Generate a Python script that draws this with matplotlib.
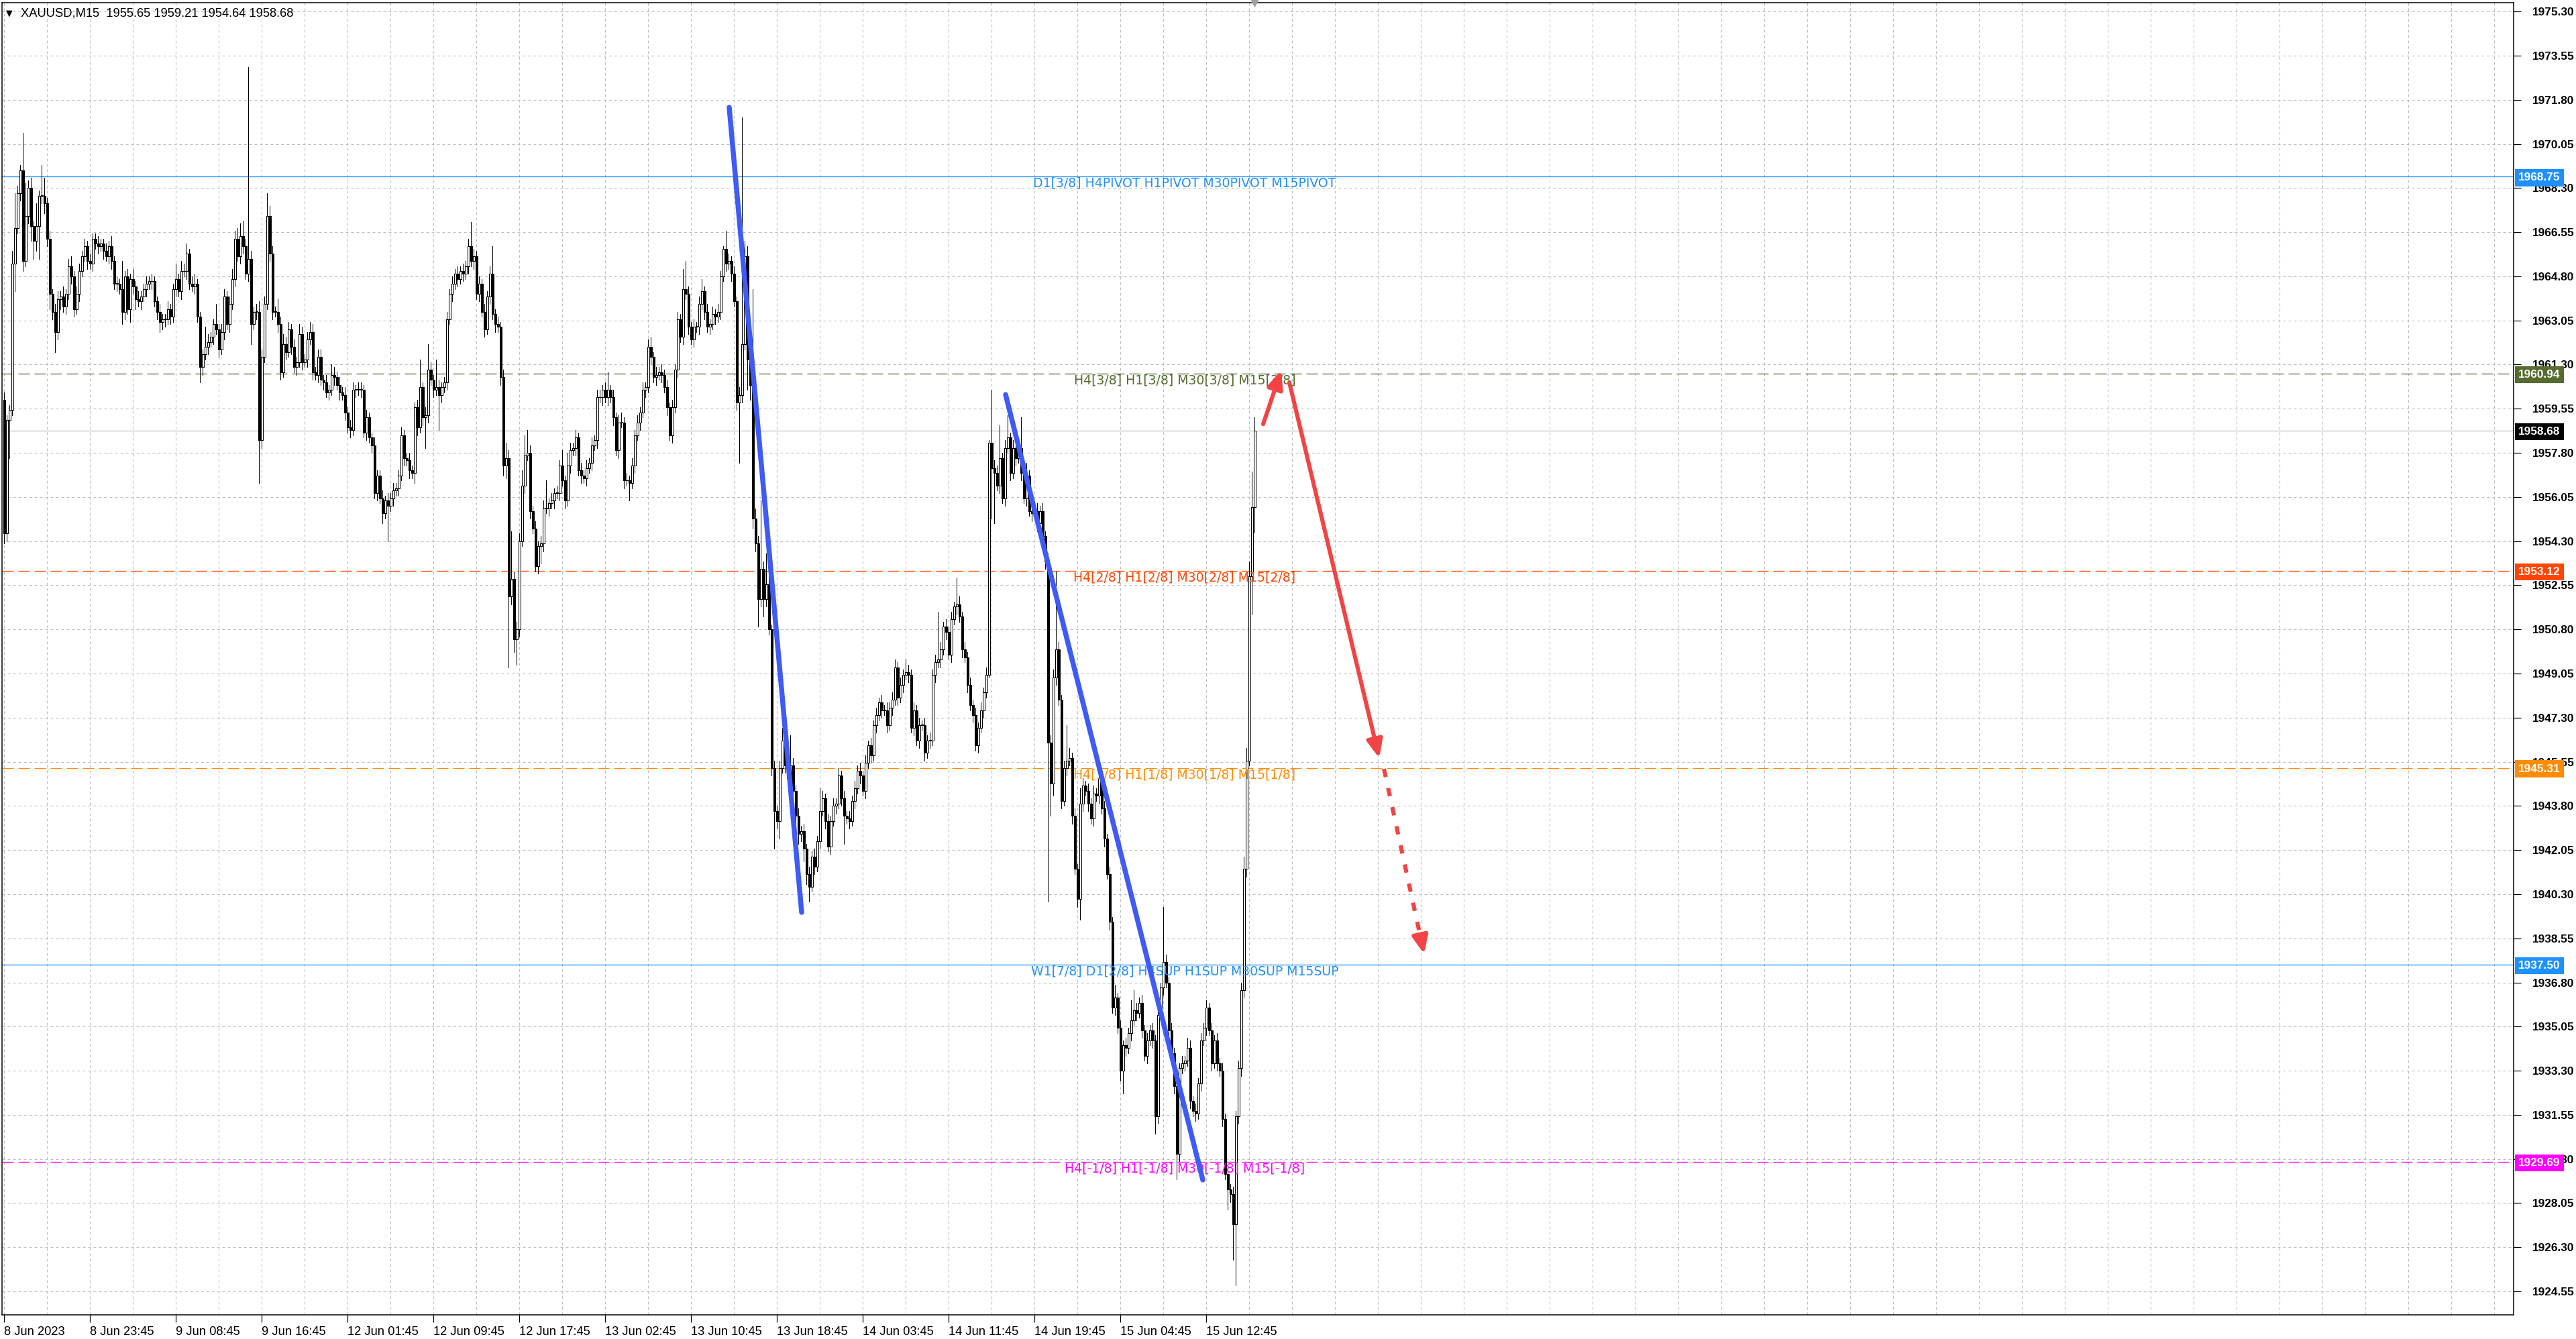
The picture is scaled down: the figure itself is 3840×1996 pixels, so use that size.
import numpy as np
import matplotlib
matplotlib.use("Agg")
from matplotlib import pyplot as plt
from matplotlib.transforms import blended_transform_factory, offset_copy

# M15 candles (open of bar i = close of bar i-1)
first_open = 1959.9
closes = [
    1954.6, 1959.1, 1959.5, 1965.3, 1966.7, 1968.1, 1969.0, 1965.4, 1967.2, 1968.3,
    1966.8, 1966.2, 1966.8, 1968.0, 1968.0, 1967.7, 1966.3, 1964.1, 1963.4, 1962.6,
    1963.9, 1964.0, 1963.6, 1964.1, 1965.2, 1964.8, 1963.5, 1964.1, 1965.0, 1965.6,
    1966.0, 1965.4, 1965.3, 1966.3, 1966.1, 1966.0, 1966.1, 1965.8, 1965.6, 1966.0,
    1965.4, 1964.5, 1964.5, 1964.3, 1963.4, 1964.8, 1963.5, 1964.7, 1964.4, 1963.9,
    1963.8, 1964.0, 1964.3, 1964.5, 1964.6, 1964.6, 1963.8, 1963.4, 1963.0, 1963.1,
    1963.1, 1963.5, 1963.2, 1964.3, 1964.7, 1964.2, 1965.0, 1965.0, 1965.7, 1964.5,
    1964.4, 1964.5, 1963.2, 1961.2, 1961.7, 1962.0, 1962.2, 1962.4, 1962.9, 1962.7,
    1961.9, 1962.6, 1964.0, 1962.9, 1963.7, 1964.7, 1966.3, 1965.6, 1966.4, 1966.0,
    1964.9, 1965.5, 1962.9, 1963.4, 1963.4, 1958.3, 1961.6, 1963.7, 1967.2, 1965.7,
    1963.4, 1963.4, 1962.9, 1961.0, 1962.1, 1961.8, 1962.7, 1962.0, 1961.2, 1961.4,
    1962.5, 1961.4, 1961.5, 1962.3, 1962.6, 1961.0, 1960.9, 1961.6, 1960.7, 1960.6,
    1960.2, 1960.3, 1960.9, 1960.8, 1960.5, 1960.2, 1960.1, 1959.4, 1958.8, 1958.7,
    1960.3, 1960.3, 1960.3, 1960.3, 1958.6, 1959.2, 1958.4, 1958.1, 1956.2, 1956.9,
    1956.0, 1955.4, 1955.9, 1955.7, 1956.0, 1956.3, 1956.4, 1956.9, 1958.5, 1957.6,
    1957.5, 1957.1, 1957.0, 1959.6, 1958.8, 1960.4, 1959.2, 1959.3, 1961.1, 1960.7,
    1960.3, 1960.4, 1960.1, 1960.4, 1960.6, 1963.1, 1964.1, 1964.5, 1964.9, 1964.7,
    1965.0, 1964.9, 1965.2, 1966.0, 1965.4, 1965.6, 1964.1, 1964.5, 1963.4, 1962.7,
    1964.0, 1964.9, 1963.3, 1962.9, 1962.8, 1960.8, 1957.3, 1957.6, 1952.1, 1952.8,
    1950.4, 1950.8, 1954.3, 1956.5, 1957.7, 1957.8, 1955.5, 1954.8, 1953.3, 1954.1,
    1954.2, 1955.6, 1955.6, 1955.8, 1955.9, 1956.2, 1956.2, 1957.3, 1956.7, 1955.9,
    1957.3, 1957.9, 1958.0, 1958.4, 1957.1, 1956.9, 1956.8, 1957.2, 1957.4, 1958.1,
    1958.3, 1960.0, 1960.0, 1960.3, 1960.0, 1960.3, 1960.0, 1959.2, 1957.9, 1959.0,
    1959.0, 1956.7, 1956.7, 1956.6, 1957.3, 1958.5, 1959.0, 1959.4, 1960.3, 1960.4,
    1962.0, 1961.6, 1960.8, 1960.9, 1961.0, 1960.9, 1960.4, 1959.6, 1958.5, 1959.6,
    1961.1, 1963.1, 1962.4, 1964.3, 1964.1, 1962.8, 1962.3, 1962.8, 1962.8, 1963.7,
    1964.2, 1963.4, 1962.8, 1962.9, 1963.3, 1963.2, 1963.4, 1964.8, 1965.9, 1965.3,
    1965.4, 1964.9, 1963.8, 1959.8, 1960.1, 1962.1, 1965.6, 1961.5, 1960.5, 1955.2,
    1954.2, 1952.0, 1953.2, 1952.0, 1952.6, 1950.8, 1945.3, 1943.6, 1943.2, 1945.3,
    1946.4, 1945.4, 1944.9, 1945.4, 1944.4, 1943.4, 1942.7, 1942.8, 1942.1, 1941.1,
    1940.6, 1941.8, 1941.4, 1942.4, 1943.6, 1944.1, 1943.2, 1942.2, 1943.2, 1943.8,
    1943.9, 1945.0, 1944.1, 1943.4, 1943.3, 1943.2, 1944.0, 1944.5, 1945.2, 1945.0,
    1944.4, 1945.5, 1946.2, 1945.8, 1947.0, 1947.4, 1947.9, 1947.6, 1947.6, 1947.0,
    1947.7, 1948.0, 1949.3, 1948.1, 1948.6, 1949.0, 1949.1, 1949.0, 1946.9, 1947.6,
    1946.4, 1947.0, 1947.0, 1945.9, 1946.4, 1946.4, 1949.0, 1949.5, 1949.6, 1950.0,
    1950.9, 1950.7, 1949.8, 1951.2, 1951.7, 1951.8, 1951.3, 1950.0, 1949.7, 1948.6,
    1947.8, 1947.4, 1946.2, 1946.9, 1947.6, 1948.3, 1949.0, 1958.2, 1957.2, 1957.0,
    1956.5, 1957.6, 1956.0, 1958.0, 1958.4, 1957.0, 1958.0, 1957.6, 1958.0, 1957.0,
    1956.0, 1956.9, 1955.5, 1955.4, 1955.5, 1955.0, 1955.5, 1954.5, 1953.5, 1946.3,
    1944.7, 1948.9, 1950.0, 1948.0, 1944.0, 1945.3, 1945.6, 1945.7, 1943.4, 1941.3,
    1940.1, 1943.9, 1944.6, 1944.4, 1943.9, 1943.3, 1944.3, 1944.2, 1944.9, 1943.7,
    1942.5, 1941.1, 1939.2, 1935.8, 1936.2, 1935.0, 1933.3, 1934.3, 1934.2, 1934.8,
    1935.3, 1935.7, 1935.6, 1936.0, 1934.9, 1933.9, 1934.5, 1934.9, 1934.5, 1931.5,
    1935.5, 1936.6, 1937.6, 1936.8, 1934.9, 1934.0, 1932.7, 1930.0, 1933.4, 1933.6,
    1933.7, 1934.2, 1932.1, 1931.7, 1931.6, 1932.8, 1934.5, 1935.0, 1935.8, 1934.9,
    1933.6, 1934.5, 1933.6, 1933.3, 1931.4, 1929.2, 1928.6, 1928.4, 1927.2, 1931.5,
    1933.4, 1936.5, 1941.3, 1945.6, 1952.9, 1955.65, 1958.68,
]
up_wick = [
    0.3, 0.2, 0.2, 0.5, 1.4, 0.3, 0.2, 1.5, 1.3, 0.3,
    0.4, 0.2, 0.9, 0.2, 1.2, 0.7, 0.2, 0.3, 0.2, 0.3,
    0.3, 0.2, 0.4, 0.2, 0.3, 0.4, 0.2, 0.3, 0.3, 0.2,
    0.3, 0.2, 0.3, 0.2, 0.2, 0.3, 0.2, 0.2, 0.3, 0.2,
    0.4, 0.2, 0.3, 0.2, 1.1, 0.2, 0.3, 0.2, 0.4, 0.2,
    0.3, 0.2, 0.2, 0.3, 0.2, 0.3, 0.2, 0.2, 0.3, 0.2,
    0.2, 0.3, 0.2, 0.2, 0.6, 0.2, 0.4, 0.3, 0.4, 0.2,
    0.3, 0.4, 0.2, 0.2, 0.2, 0.8, 0.3, 0.2, 0.2, 0.8,
    0.2, 0.3, 0.3, 0.2, 0.3, 0.4, 0.3, 0.4, 0.5, 0.6,
    0.3, 7.6, 0.3, 0.2, 0.3, 0.4, 0.3, 0.3, 0.9, 0.4,
    0.3, 0.2, 0.5, 0.3, 0.4, 0.3, 0.3, 0.2, 0.3, 0.2,
    0.4, 0.3, 0.2, 0.3, 0.4, 0.3, 0.2, 0.3, 0.3, 0.2,
    0.3, 0.2, 0.4, 0.3, 0.2, 0.3, 0.2, 0.3, 0.2, 0.3,
    0.3, 0.2, 0.3, 0.3, 0.2, 0.3, 0.2, 0.2, 0.3, 0.2,
    0.2, 0.3, 0.2, 0.3, 0.2, 0.3, 0.2, 0.2, 0.3, 0.2,
    0.2, 0.3, 0.2, 0.2, 0.3, 1.1, 0.2, 0.3, 1.0, 0.3,
    0.2, 1.1, 0.3, 0.2, 0.2, 0.3, 0.2, 0.3, 0.2, 0.3,
    0.2, 0.3, 0.2, 0.3, 0.95, 0.3, 0.2, 0.3, 0.2, 0.3,
    0.2, 0.3, 1.1, 0.2, 0.3, 0.2, 0.3, 0.6, 0.3, 1.9,
    0.3, 0.3, 0.3, 0.6, 0.8, 0.9, 0.3, 0.2, 0.3, 0.2,
    0.3, 0.3, 1.1, 0.2, 0.3, 0.2, 0.3, 0.2, 0.6, 0.2,
    0.5, 0.3, 0.2, 0.3, 0.2, 0.3, 0.2, 0.3, 0.2, 0.3,
    0.2, 0.3, 0.3, 0.2, 0.3, 0.7, 0.2, 0.3, 0.2, 0.3,
    0.4, 0.2, 0.3, 0.2, 0.3, 0.2, 0.3, 0.2, 0.3, 0.2,
    0.3, 0.4, 0.2, 0.3, 0.2, 0.3, 0.2, 0.3, 0.2, 0.3,
    0.2, 0.3, 0.2, 0.8, 1.1, 0.3, 0.2, 0.3, 0.2, 0.3,
    0.5, 0.2, 0.3, 0.2, 0.3, 0.2, 0.3, 0.2, 0.1, 0.7,
    0.3, 0.2, 0.3, 0.2, 0.3, 9.0, 0.6, 0.4, 0.3, 3.8,
    0.4, 0.3, 2.7, 0.3, 1.2, 0.3, 0.2, 0.3, 0.2, 0.3,
    0.5, 0.3, 0.2, 1.2, 0.3, 0.2, 0.3, 0.2, 0.3, 0.2,
    0.3, 0.2, 0.3, 0.2, 0.9, 0.3, 0.2, 0.3, 0.2, 0.3,
    0.2, 0.3, 0.2, 0.3, 0.2, 0.3, 0.2, 0.3, 0.2, 0.3,
    0.2, 0.3, 0.2, 0.3, 0.2, 0.3, 0.2, 0.3, 0.2, 0.3,
    0.2, 0.3, 0.3, 0.2, 0.3, 0.2, 0.5, 0.3, 0.2, 0.3,
    0.2, 0.3, 0.2, 0.3, 0.2, 0.3, 0.2, 0.3, 1.9, 0.3,
    0.2, 0.3, 0.2, 0.3, 0.2, 1.05, 0.3, 0.2, 0.3, 0.2,
    0.3, 0.2, 0.3, 0.2, 0.3, 0.2, 0.3, 0.1, 2.1, 0.3,
    0.3, 1.3, 0.2, 0.3, 0.9, 0.2, 0.3, 0.2, 0.3, 1.2,
    0.3, 0.5, 0.2, 0.3, 0.2, 0.3, 0.2, 0.3, 0.2, 0.3,
    0.3, 0.3, 3.1, 0.3, 0.2, 0.3, 1.4, 0.4, 0.2, 0.3,
    0.2, 0.6, 0.3, 0.2, 0.3, 0.2, 0.3, 0.2, 0.3, 0.2,
    0.3, 0.2, 0.3, 0.2, 0.5, 0.2, 0.3, 0.2, 0.3, 0.2,
    0.8, 0.8, 0.3, 0.2, 0.3, 0.2, 0.3, 0.2, 0.3, 0.2,
    0.3, 0.2, 2.2, 0.3, 0.2, 0.3, 0.2, 0.3, 0.2, 0.3,
    0.2, 0.4, 0.3, 0.2, 0.3, 0.2, 0.3, 0.2, 0.3, 0.2,
    0.3, 0.2, 0.3, 0.2, 0.3, 0.2, 0.3, 0.2, 0.3, 0.2,
    0.3, 0.3, 0.5, 0.5, 0.6, 1.4, 0.53,
]
dn_wick = [
    0.4, 0.3, 1.5, 0.2, 1.1, 0.2, 0.3, 0.4, 0.2, 0.3,
    0.6, 0.7, 0.4, 1.3, 0.3, 0.4, 0.3, 0.6, 0.3, 0.8,
    0.3, 0.4, 0.2, 0.3, 0.2, 0.3, 0.3, 0.2, 0.3, 0.2,
    0.2, 0.3, 0.2, 0.3, 0.2, 0.3, 0.2, 0.3, 0.2, 0.3,
    0.3, 0.2, 0.3, 0.2, 0.5, 0.3, 0.2, 0.5, 0.3, 0.4,
    0.2, 0.3, 0.2, 0.3, 0.2, 0.3, 0.2, 0.3, 0.4, 0.3,
    0.3, 0.2, 0.3, 0.2, 0.3, 0.2, 0.3, 0.2, 0.3, 0.2,
    0.2, 0.3, 0.2, 0.6, 0.3, 0.2, 0.3, 0.2, 0.3, 0.2,
    0.3, 0.2, 0.3, 0.2, 0.3, 0.2, 0.3, 0.2, 0.3, 0.3,
    0.2, 0.3, 0.8, 0.2, 0.3, 1.7, 0.3, 0.2, 0.2, 0.3,
    0.3, 0.2, 0.3, 0.3, 0.2, 0.3, 0.2, 0.3, 0.2, 0.3,
    0.2, 0.3, 0.2, 0.3, 0.2, 0.3, 0.2, 0.3, 0.2, 0.3,
    0.2, 0.3, 0.2, 0.3, 0.2, 0.3, 0.2, 0.3, 0.2, 0.3,
    0.2, 0.3, 0.2, 0.3, 0.2, 0.3, 0.2, 0.3, 0.2, 0.3,
    0.2, 0.4, 0.2, 1.4, 0.2, 0.3, 0.2, 0.3, 0.2, 0.3,
    0.2, 0.3, 0.2, 0.4, 0.3, 0.2, 0.3, 1.2, 0.3, 0.2,
    0.3, 0.2, 1.4, 0.3, 0.2, 0.3, 0.2, 0.3, 0.2, 0.3,
    0.2, 0.3, 0.2, 0.3, 0.2, 0.3, 0.2, 0.3, 0.2, 0.3,
    0.2, 0.3, 0.2, 0.3, 0.2, 0.3, 0.4, 0.5, 2.8, 0.3,
    0.5, 1.0, 0.3, 0.2, 0.3, 0.2, 0.3, 0.2, 0.2, 0.3,
    0.7, 0.3, 0.2, 0.3, 0.2, 0.3, 0.2, 0.3, 0.2, 0.3,
    0.2, 0.3, 0.2, 0.3, 0.2, 0.3, 0.2, 0.3, 0.2, 0.3,
    0.2, 0.3, 0.2, 0.3, 0.2, 0.3, 0.2, 0.3, 0.2, 0.3,
    0.2, 0.3, 0.2, 0.7, 0.2, 0.3, 0.2, 0.3, 0.2, 0.3,
    0.2, 0.3, 0.2, 0.3, 0.2, 0.3, 0.2, 0.3, 0.2, 0.3,
    0.2, 0.3, 0.2, 0.3, 0.2, 0.3, 0.2, 0.3, 0.2, 0.3,
    0.2, 0.3, 0.2, 0.3, 0.2, 0.3, 0.2, 0.3, 0.2, 0.3,
    0.2, 0.3, 0.2, 0.3, 2.4, 0.3, 0.2, 1.2, 0.6, 0.4,
    0.3, 1.1, 0.3, 0.7, 0.3, 0.2, 0.3, 1.5, 0.3, 0.7,
    0.2, 0.3, 0.2, 0.3, 0.2, 0.3, 0.4, 0.3, 0.5, 0.4,
    0.6, 0.2, 0.3, 0.2, 0.3, 0.2, 0.3, 0.2, 0.3, 0.2,
    0.3, 0.2, 0.3, 1.1, 0.2, 0.3, 0.2, 0.3, 0.2, 0.3,
    0.2, 0.3, 0.2, 0.3, 0.2, 0.3, 0.2, 0.3, 0.2, 0.3,
    0.2, 0.3, 0.2, 0.3, 0.2, 0.3, 0.2, 0.3, 0.2, 0.3,
    0.2, 0.3, 0.2, 0.3, 0.2, 0.3, 0.2, 0.3, 0.2, 0.3,
    0.2, 0.3, 0.2, 0.3, 0.2, 0.3, 0.2, 0.3, 0.2, 0.3,
    0.2, 0.3, 0.2, 0.3, 0.2, 0.3, 0.2, 0.1, 2.0, 2.0,
    0.2, 0.3, 0.2, 0.3, 0.2, 0.3, 0.2, 0.3, 0.2, 0.3,
    0.2, 0.3, 0.2, 0.3, 0.2, 0.3, 0.2, 0.3, 0.3, 6.3,
    1.3, 0.5, 0.3, 0.2, 0.3, 0.2, 0.3, 0.2, 0.3, 0.2,
    0.3, 0.8, 0.3, 0.2, 0.3, 0.2, 0.3, 0.2, 0.3, 0.2,
    0.3, 0.2, 0.3, 0.2, 0.3, 0.2, 0.4, 0.9, 0.3, 0.2,
    0.3, 0.2, 0.3, 0.2, 0.3, 0.2, 0.3, 0.2, 0.3, 0.7,
    0.3, 0.2, 0.3, 0.2, 0.3, 0.2, 0.3, 1.0, 0.3, 0.2,
    0.3, 0.2, 0.3, 0.2, 0.3, 0.2, 0.3, 0.2, 0.3, 0.2,
    0.3, 0.2, 0.3, 0.2, 0.3, 0.2, 0.8, 0.3, 1.4, 2.4,
    0.3, 0.3, 0.3, 0.3, 0.2, 1.5, 1.01,
]

header = "XAUUSD,M15  1955.65 1959.21 1954.64 1958.68"
last_price = 1958.68

time_labels = [
    "8 Jun 2023", "8 Jun 23:45", "9 Jun 08:45", "9 Jun 16:45", "12 Jun 01:45",
    "12 Jun 09:45", "12 Jun 17:45", "13 Jun 02:45", "13 Jun 10:45", "13 Jun 18:45",
    "14 Jun 03:45", "14 Jun 11:45", "14 Jun 19:45", "15 Jun 04:45", "15 Jun 12:45",
]
bars_per_label = 32
bars_per_grid = 16
price_top = 1975.30
price_step = 1.75
price_count = 30

# murrey / pivot levels
level_prices = [1968.75, 1960.94, 1953.12, 1945.31, 1937.50, 1929.69]
level_colors = ["#1E90FF", "#556B2F", "#FF4500", "#FF8C00", "#1E90FF", "#FF00FF"]
level_dashed = [False, True, True, True, False, True]
level_texts = [
    "D1[3/8] H4PIVOT H1PIVOT M30PIVOT M15PIVOT",
    "H4[3/8] H1[3/8] M30[3/8] M15[3/8]",
    "H4[2/8] H1[2/8] M30[2/8] M15[2/8]",
    "H4[1/8] H1[1/8] M30[1/8] M15[1/8]",
    "W1[7/8] D1[2/8] H4SUP H1SUP M30SUP M15SUP",
    "H4[-1/8] H1[-1/8] M30[-1/8] M15[-1/8]",
]
level_text_bar = 440

# hand drawn objects (bar index, price)
trend_lines = [((270.25, 1971.50), (297.25, 1939.58)),
               ((373.25, 1960.11), (446.75, 1928.97))]
arrow_up = ((469.25, 1958.94), (476.0, 1961.07))
arrow_down = ((479.0, 1960.59), (512.5, 1945.70))
arrow_dotted = ((514.25, 1945.27), (529.25, 1937.93))

W, H, DPI = 3840, 1996, 200
px = 72 / DPI
plt.rcParams['font.family'] = ['Liberation Sans', 'DejaVu Sans']
plt.rcParams['lines.scale_dashes'] = False

fig = plt.figure(figsize=(W / DPI, H / DPI), dpi=DPI)
ax = fig.add_axes([3 / W, 1 - 1960 / H, (3747 - 3) / W, (1960 - 4) / H])
ax.set_xlim(-0.75, 935.25)
ax.set_ylim(1923.62, 1975.65)

closes_a = np.array(closes)
opens_a = np.concatenate([[first_open], closes_a[:-1]])
tops = np.maximum(opens_a, closes_a)
bots = np.minimum(opens_a, closes_a)
highs = tops + np.array(up_wick)
lows = bots - np.array(dn_wick)
xs = np.arange(len(closes))

# grid
grid_ls = (0, (4 * px, 4 * px))
yticks = price_top - price_step * np.arange(price_count)
for b in range(0, 936, bars_per_grid):
    ax.axvline(b, color="#BDBDBD", lw=1.1 * px, linestyle=grid_ls, zorder=0.5)
for p in yticks:
    ax.axhline(p, color="#BDBDBD", lw=1.1 * px, linestyle=grid_ls, zorder=0.5)

# levels
for p, c, d in zip(level_prices, level_colors, level_dashed):
    ls = (0, (17 * px, 7 * px)) if d else '-'
    ax.axhline(p, color=c, lw=1.3 * px, linestyle=ls, zorder=1)
ax.axhline(last_price, color="#C0C0C0", lw=1.3 * px, zorder=1)

# candles
ax.vlines(xs, lows, highs, color="black", lw=1.0 * px, antialiased=False, zorder=3)
bull = closes_a >= opens_a
ax.bar(xs, np.maximum(tops - bots, 0.02), bottom=bots, width=0.75,
       color=np.where(bull, "white", "black"), edgecolor="black",
       linewidth=1.0 * px, antialiased=False, zorder=3.1)

# level captions
lab_trans = offset_copy(ax.transData, fig=fig, y=-10, units='dots')
for p, c, t in zip(level_prices, level_colors, level_texts):
    ax.text(level_text_bar, p, t, transform=lab_trans, ha='center', va='center',
            color=c, fontsize=6.8, family='DejaVu Sans', zorder=6)

# trend lines and arrows
blue = "#3F5BF5"
for s, e in trend_lines:
    ax.plot([s[0], e[0]], [s[1], e[1]], color=blue, lw=2.7, solid_capstyle='round', zorder=7)

red = "#F24444"
for s, e in [arrow_up, arrow_down]:
    ax.annotate('', xy=e, xytext=s, zorder=8,
                arrowprops=dict(arrowstyle='-|>,head_length=0.8,head_width=0.35',
                                mutation_scale=10, color=red, lw=2.2,
                                shrinkA=0, shrinkB=0))
s, e = arrow_dotted
ax.plot([s[0], e[0]], [s[1], e[1]], color=red, lw=2.2,
        linestyle=(0, (4.5, 6.0)), dash_capstyle='butt', zorder=8)
near = (e[0] - 0.08 * (e[0] - s[0]), e[1] - 0.08 * (e[1] - s[1]))
ax.annotate('', xy=e, xytext=near, zorder=8,
            arrowprops=dict(arrowstyle='-|>,head_length=0.8,head_width=0.35',
                            mutation_scale=10, color=red, lw=2.2,
                            shrinkA=0, shrinkB=0))

# right price axis
ax.yaxis.tick_right()
ax.set_yticks(yticks)
ax.set_yticklabels([f"{p:.2f}" for p in yticks], fontweight='bold')
ax.tick_params(axis='y', length=4, width=1.2 * px, pad=6, labelsize=6.2, colors='black')
ax.set_xticks(np.arange(len(time_labels)) * bars_per_label)
ax.set_xticklabels(time_labels)
for lab in ax.get_xticklabels():
    lab.set_horizontalalignment('left')
ax.tick_params(axis='x', length=4, width=1.2 * px, pad=2, labelsize=6.6, colors='black')
for sp in ax.spines.values():
    sp.set_linewidth(1.5 * px)
    sp.set_color('black')

box_trans = offset_copy(blended_transform_factory(ax.transAxes, ax.transData),
                        fig=fig, x=7, units='dots')
for p, c in zip(level_prices + [last_price], level_colors + ["black"]):
    ax.text(1.0, p, f"{p:.2f}", transform=box_trans, ha='left', va='center_baseline',
            color='white', fontsize=6.2, fontweight='bold', zorder=10, clip_on=False,
            bbox=dict(boxstyle='square,pad=0.3', fc=c, ec='none'))

# header
fig.text(14 / W, 1 - 20 / H, "\u25BC", ha='center', va='center', fontsize=4.5,
         family=['DejaVu Sans'])
fig.text(31 / W, 1 - 20 / H, header, ha='left', va='center', fontsize=6.6)
ax.plot([xs[-1]], [1975.65], marker='v', color='#A0A0A0', ms=3, clip_on=False, zorder=9)

fig.savefig("out.png", dpi=DPI)
